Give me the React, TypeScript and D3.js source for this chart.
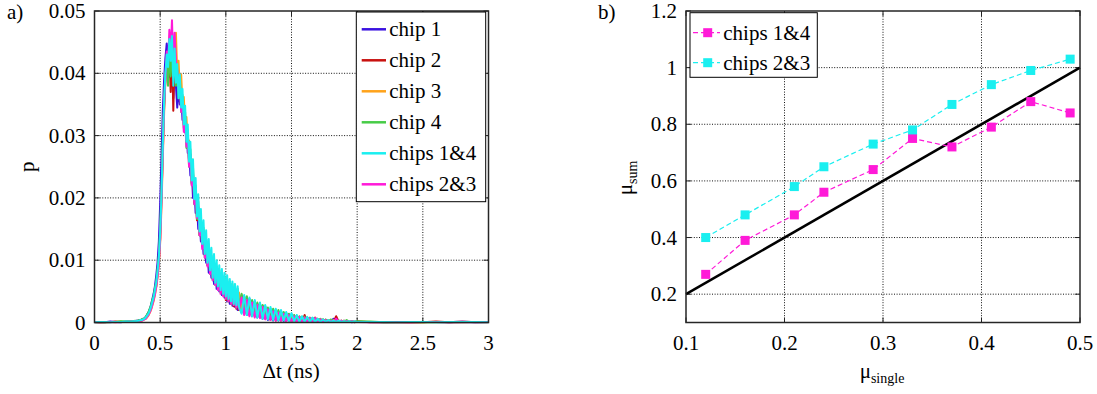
import React from "react";
import { scaleLinear, line, range } from "d3";

const FS = 21;
const TXT = { fontFamily: "Liberation Serif", fontSize: FS };
const SUB = { fontFamily: "Liberation Serif", fontSize: 14 };

// ---------- panel a) : delay histograms, p given in units of 1e-4 ----------
const headBins = range(0, 0.29, 0.04);
const coreBins = range(0.3, 1.105, 0.01);
const tailBins = range(1.12, 2.005, 0.02);
const farBins = range(2.1, 3.05, 0.1);
const dtBins = [...headBins, ...coreBins, ...tailBins, ...farBins];

const chip1 = [
  0.5, 1, 0.5, 1.5, 1, 0.5, 1.5, 1,
  2, 1, 3, 2, 4, 3, 5, 4, 7, 9,
  12, 16, 21, 28, 37, 46, 58, 75, 96, 130,
  190, 265, 340, 390, 425, 448, 430, 395, 440, 420,
  360, 410, 380, 345, 380, 350, 372, 325, 340, 305,
  318, 272, 285, 236, 248, 200, 222, 176, 192, 150,
  168, 130, 150, 110, 126, 96, 118, 80, 100, 72,
  94, 62, 86, 54, 78, 50, 70, 44, 64, 40,
  62, 34, 58, 30, 55, 27, 50, 25, 48, 20, 44,
  16, 42, 12, 38, 10, 34, 8, 30, 6, 26,
  4, 22, 3, 20, 3, 18, 2, 15, 2, 13,
  1, 11, 1, 9, 1, 8, 1, 7, 1, 6,
  1, 5, 1, 4, 1, 6, 1, 3, 1, 3,
  1, 2, 0.5, 2, 1,
  1, 0.5, 1, 0.5, 1, 1, 0.5, 1, 0.5, 1,
];
const chip2 = [
  1, 0.5, 1, 0.5, 1.5, 1, 1, 2,
  1, 2, 2, 3, 2, 4, 3, 5, 6, 7,
  9, 12, 18, 22, 31, 37, 50, 58, 80, 98,
  135, 205, 270, 355, 390, 425, 420, 440, 370, 445,
  340, 430, 400, 405, 370, 392, 345, 362, 318, 330,
  290, 305, 258, 270, 224, 240, 192, 212, 164, 184,
  140, 160, 122, 146, 108, 128, 92, 116, 80, 104,
  70, 92, 62, 86, 56, 78, 50, 72, 44, 70,
  36, 64, 34, 60, 30, 54, 26, 52, 22, 48, 20,
  44, 14, 40, 12, 34, 10, 30, 8, 27, 6,
  22, 4, 20, 3, 17, 3, 15, 2, 13, 2,
  11, 1, 9, 1, 12, 1, 7, 1, 8, 1,
  5, 1, 4, 1, 3, 1, 10, 1, 3, 1,
  2, 1, 2, 0.5, 2,
  0.5, 1, 0.5, 1, 0.5, 1.5, 0.5, 1, 1, 0.5,
];
const chip3 = [
  0.5, 0.5, 1, 1, 0.5, 1.5, 1, 1.5,
  1, 1, 2, 2, 3, 2, 3, 4, 5, 6,
  8, 11, 15, 20, 27, 34, 44, 56, 72, 92,
  128, 185, 262, 335, 388, 415, 432, 410, 455, 440,
  450, 420, 465, 400, 420, 372, 398, 350, 362, 318,
  330, 288, 292, 256, 262, 222, 228, 192, 198, 166,
  172, 144, 156, 124, 138, 110, 124, 96, 112, 86,
  100, 76, 92, 68, 84, 62, 78, 56, 72, 52,
  66, 48, 62, 42, 58, 40, 54, 36, 50, 32, 48,
  20, 40, 16, 36, 14, 32, 12, 28, 10, 24,
  8, 21, 6, 18, 5, 16, 4, 14, 3, 12,
  2, 10, 2, 9, 2, 8, 1, 7, 1, 6,
  1, 5, 1, 4, 1, 4, 1, 3, 1, 3,
  1, 2, 1, 2, 1,
  1, 1, 0.5, 1, 0.5, 1, 1, 0.5, 1, 1,
];
const chip4 = [
  1, 0.5, 0.5, 1, 1, 2, 1.5, 2,
  2, 3, 2, 3, 4, 4, 5, 6, 6, 9,
  13, 16, 22, 27, 36, 42, 55, 65, 85, 108,
  150, 210, 290, 345, 400, 410, 380, 440, 395, 430,
  400, 430, 380, 405, 360, 390, 338, 365, 312, 338,
  280, 308, 250, 278, 222, 250, 190, 220, 166, 194,
  140, 170, 122, 152, 104, 134, 92, 122, 78, 108,
  68, 98, 60, 90, 54, 84, 48, 78, 44, 74,
  38, 70, 34, 66, 30, 62, 28, 58, 24, 54, 22,
  46, 18, 42, 14, 36, 12, 32, 10, 28, 8,
  24, 6, 22, 5, 20, 4, 17, 3, 14, 2,
  12, 2, 10, 1, 9, 1, 8, 1, 7, 1,
  6, 1, 5, 1, 5, 1, 4, 1, 3, 1,
  4, 1, 2, 1, 2,
  1.5, 0.5, 1, 1, 0.5, 1, 0.5, 1.5, 0.5, 1,
];
const chips14 = [
  0.5, 1, 1, 0.5, 1, 1, 1.5, 1.5,
  2, 2, 2, 3, 3, 4, 4, 5, 6, 8,
  11, 14, 19, 25, 33, 41, 52, 64, 82, 104,
  145, 205, 285, 355, 400, 430, 410, 455, 420, 460,
  380, 440, 385, 415, 360, 398, 345, 375, 318, 348,
  290, 318, 258, 290, 228, 262, 198, 232, 170, 206,
  146, 182, 126, 164, 110, 148, 96, 134, 84, 120,
  72, 110, 64, 100, 58, 92, 52, 86, 46, 80,
  42, 76, 38, 70, 34, 66, 30, 62, 28, 58, 26,
  14, 44, 12, 40, 10, 36, 8, 32, 6, 28,
  5, 25, 4, 22, 3, 20, 3, 17, 2, 15,
  2, 12, 1, 10, 1, 9, 1, 8, 1, 6,
  1, 5, 1, 4, 1, 3, 1, 3, 1, 2,
  1, 2, 1, 2, 1,
  1, 1, 0.5, 1, 1, 0.5, 1, 1, 1, 0.5,
];
const chips23 = [
  1, 0.5, 1, 1, 0.5, 1, 1, 1.5,
  1, 2, 1, 2, 3, 3, 3, 4, 5, 6,
  9, 12, 16, 21, 28, 36, 45, 58, 74, 95,
  132, 195, 272, 345, 392, 435, 415, 470, 430, 485,
  410, 465, 420, 405, 372, 382, 338, 352, 306, 322,
  282, 296, 250, 268, 220, 238, 190, 212, 168, 186,
  140, 160, 118, 142, 104, 126, 90, 112, 78, 100,
  68, 90, 60, 82, 52, 76, 46, 70, 42, 64,
  38, 60, 34, 56, 30, 52, 28, 48, 24, 46, 22,
  40, 12, 36, 10, 32, 8, 28, 7, 25, 5,
  21, 4, 18, 3, 16, 3, 14, 2, 12, 2,
  10, 1, 9, 1, 8, 1, 7, 1, 7, 1,
  5, 1, 4, 1, 3, 1, 6, 1, 3, 1,
  2, 1, 2, 1, 1,
  0.5, 1, 1, 0.5, 1, 1, 0.5, 1.5, 0.5, 1,
];

const histNames = ["chip 1", "chip 2", "chip 3", "chip 4", "chips 1&4", "chips 2&3"];
const histColors = ["#3a12e0", "#c8110f", "#ffa31a", "#47cc47", "#1aeff0", "#ff1ad8"];
const histSeries = [chip1, chip2, chip3, chip4, chips14, chips23];
const histDrawOrder = [0, 1, 2, 3, 5, 4];

const dtTicks = [0, 0.5, 1, 1.5, 2, 2.5, 3];
const pTicks = [0, 0.01, 0.02, 0.03, 0.04, 0.05];

// ---------- panel b) : mean photon numbers ----------
const muSingle = [0.12, 0.16, 0.21, 0.24, 0.29, 0.33, 0.37, 0.41, 0.45, 0.49];
const muSum14 = [0.27, 0.39, 0.48, 0.56, 0.64, 0.75, 0.72, 0.79, 0.88, 0.84];
const muSum23 = [0.4, 0.48, 0.58, 0.65, 0.73, 0.78, 0.87, 0.94, 0.99, 1.03];
const idealSingle = [0.1, 0.5];
const idealSum = [0.2, 1.0];
const muNames = ["chips 1&4", "chips 2&3"];
const muColors = ["#ff1ad8", "#1aeff0"];

const muSingleTicks = [0.1, 0.2, 0.3, 0.4, 0.5];
const muSumTicks = [0.2, 0.4, 0.6, 0.8, 1, 1.2];

const xA = scaleLinear().domain([0, 3]).range([94.5, 488.5]);
const yA = scaleLinear().domain([0, 0.05]).range([322.5, 11]);
const xB = scaleLinear().domain([0.1, 0.5]).range([686, 1080]);
const yB = scaleLinear().domain([0.1, 1.2]).range([322.5, 11]);

// grid, inward ticks and tick labels (MATLAB style box axes)
function Frame({ x, y, xTicks, yTicks }) {
  const [x0, x1] = x.range();
  const [y0, y1] = y.range();
  const innerX = xTicks.filter((t) => x(t) > x0 + 1 && x(t) < x1 - 1);
  const innerY = yTicks.filter((t) => y(t) < y0 - 1 && y(t) > y1 + 1);
  const grid = { stroke: "#111", strokeWidth: 1, strokeDasharray: "1,1.6" };
  const tick = { stroke: "#222", strokeWidth: 1 };
  return (
    <g>
      {innerX.map((t) => (
        <line key={"gx" + t} x1={x(t)} x2={x(t)} y1={y1} y2={y0} {...grid} />
      ))}
      {innerY.map((t) => (
        <line key={"gy" + t} x1={x0} x2={x1} y1={y(t)} y2={y(t)} {...grid} />
      ))}
      {xTicks.map((t) => (
        <g key={"tx" + t}>
          <line x1={x(t)} x2={x(t)} y1={y0} y2={y0 - 5} {...tick} />
          <line x1={x(t)} x2={x(t)} y1={y1} y2={y1 + 5} {...tick} />
          <text x={x(t)} y={y0 + 27} textAnchor="middle" style={TXT}>{String(t)}</text>
        </g>
      ))}
      {yTicks.map((t) => (
        <g key={"ty" + t}>
          <line x1={x0} x2={x0 + 5} y1={y(t)} y2={y(t)} {...tick} />
          <line x1={x1} x2={x1 - 5} y1={y(t)} y2={y(t)} {...tick} />
          <text x={x0 - 9} y={y(t)} dy="0.34em" textAnchor="end" style={TXT}>{String(t)}</text>
        </g>
      ))}
    </g>
  );
}

function Box({ x, y }) {
  const [x0, x1] = x.range();
  const [y0, y1] = y.range();
  return (
    <rect x={x0} y={y1} width={x1 - x0} height={y0 - y1}
      fill="none" stroke="#262626" strokeWidth={1.5} />
  );
}

const histLine = line()
  .x((d) => xA(d[0]))
  .y((d) => yA(d[1] * 1e-4));

const muLine = line()
  .x((d) => xB(d[0]))
  .y((d) => yB(d[1]));

export default function App() {
  return (
    <svg
      width={1097}
      height={394}
      style={{ position: "absolute", left: 0, top: 0, background: "#fff" }}
    >
      {/* ----- panel a ----- */}
      <Frame x={xA} y={yA} xTicks={dtTicks} yTicks={pTicks} />
      {histDrawOrder.map((i) => (
        <path
          key={histNames[i]}
          d={histLine(dtBins.map((t, k) => [t, histSeries[i][k]]))}
          fill="none"
          stroke={histColors[i]}
          strokeWidth={2}
          strokeLinejoin="round"
        />
      ))}
      <Box x={xA} y={yA} />
      <g>
        <rect x={356.3} y={12} width={129.4} height={189.7} fill="#fff" stroke="#000" strokeWidth={1} />
        {histNames.map((name, i) => (
          <g key={name} transform={`translate(0,${29.3 + i * 31})`}>
            <line x1={361.7} x2={386} stroke={histColors[i]} strokeWidth={2.5} />
            <text x={389.3} y={7} style={TXT}>{name}</text>
          </g>
        ))}
      </g>
      <text transform="translate(34,166.7) rotate(-90)" textAnchor="middle" style={TXT}>p</text>
      <text x={291} y={378} textAnchor="middle" style={TXT}>Δt (ns)</text>
      <text x={7} y={19} style={TXT}>a)</text>

      {/* ----- panel b ----- */}
      <Frame x={xB} y={yB} xTicks={muSingleTicks} yTicks={muSumTicks} />
      <path
        d={muLine(idealSingle.map((v, k) => [v, idealSum[k]]))}
        fill="none" stroke="#000" strokeWidth={2.5}
      />
      {[muSum14, muSum23].map((vals, i) => {
        const pts = muSingle.map((v, k) => [v, vals[k]]);
        return (
          <g key={muNames[i]}>
            <path d={muLine(pts)} fill="none" stroke={muColors[i]}
              strokeWidth={1.2} strokeDasharray="5,3" />
            {pts.map((p) => (
              <rect key={p[0]} x={xB(p[0]) - 4.5} y={yB(p[1]) - 4.5}
                width={9} height={9} fill={muColors[i]} />
            ))}
          </g>
        );
      })}
      <Box x={xB} y={yB} />
      <g>
        <rect x={690} y={12.7} width={127.3} height={64.6} fill="#fff" stroke="#000" strokeWidth={1} />
        {muNames.map((name, i) => (
          <g key={name} transform={`translate(0,${32.7 + i * 30})`}>
            <line x1={693} x2={720} stroke={muColors[i]} strokeWidth={1.2} strokeDasharray="5,3" />
            <rect x={703.2} y={-4.5} width={9} height={9} fill={muColors[i]} />
            <text x={723.3} y={7} style={TXT}>{name}</text>
          </g>
        ))}
      </g>
      <text transform="translate(632,178) rotate(-90)" textAnchor="middle" style={TXT}>
        μ<tspan dy={5} style={SUB}>sum</tspan>
      </text>
      <text x={882} y={377.5} textAnchor="middle" style={TXT}>
        μ<tspan dy={5} style={SUB}>single</tspan>
      </text>
      <text x={598} y={19} style={TXT}>b)</text>
    </svg>
  );
}
